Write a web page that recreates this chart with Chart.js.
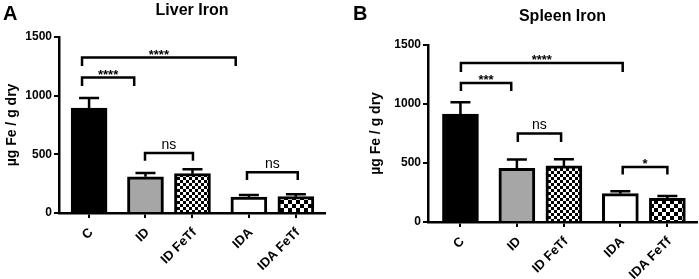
<!DOCTYPE html>
<html>
<head>
<meta charset="utf-8">
<script src="https://cdn.jsdelivr.net/npm/chart.js@4"></script>
<style>
  body { margin: 0; background: #fff; }
  #wrap { position: relative; width: 699px; height: 279px; }
  #panelA { position: absolute; left: 0; top: 0; }
  #panelB { position: absolute; left: 350px; top: 0; }
</style>
</head>
<body>
<div id="wrap">
  <canvas id="panelA" width="350" height="279"></canvas>
  <canvas id="panelB" width="349" height="279"></canvas>
</div>
<script>
// groups and where they sit on the x axis (gap between groups)
const groups = ['C', 'ID', 'ID FeTf', 'IDA', 'IDA FeTf'];
const groupX = [0, 1.2, 2.2, 3.4, 4.4];

// Liver iron (µg Fe / g dry)
const liverMean = [895, 309, 335, 136, 139];
const liverErr = [85, 32, 37, 17, 20];
// significance brackets: from / to (x units), top / foot (y units), label
const liverFrom = [-0.15, -0.15, 1.19, 3.36];
const liverTo = [3.12, 0.96, 2.21, 4.44];
const liverTop = [1325, 1154, 511, 347];
const liverFoot = [1252, 1082, 445, 281];
const liverSig = ['****', '****', 'ns', 'ns'];

// Spleen iron
const spleenMean = [915, 455, 475, 240, 200];
const spleenErr = [100, 74, 56, 20, 20];
const spleenFrom = [0.01, 0.01, 1.22, 3.45];
const spleenTo = [3.45, 1.08, 2.14, 4.40];
const spleenTop = [1347, 1178, 749, 466];
const spleenFoot = [1271, 1110, 678, 402];
const spleenSig = ['****', '***', 'ns', '*'];

const yTicks = [0, 500, 1000, 1500];
const yTitle = 'µg Fe / g dry';
const FONT = '"Liberation Sans", Arial, sans-serif';

function checker(ctx, size) {
    const c = document.createElement('canvas');
    c.width = c.height = size * 2;
    const g = c.getContext('2d');
    g.fillStyle = '#fff';
    g.fillRect(0, 0, size * 2, size * 2);
    g.fillStyle = '#000';
    g.fillRect(0, 0, size, size);
    g.fillRect(size, size, size, size);
    return ctx.createPattern(c, 'repeat');
}

// error bars, brackets, titles
function annotate(p) {
    return {
        id: 'annotate',
        afterDatasetsDraw(chart) {
            const ctx = chart.ctx;
            const x = chart.scales.x, y = chart.scales.y;
            ctx.save();
            ctx.strokeStyle = '#000';
            ctx.fillStyle = '#000';
            ctx.lineWidth = 2.5;
            p.mean.forEach((m, i) => {
                const px = x.getPixelForValue(groupX[i]);
                const y0 = y.getPixelForValue(m);
                const y1 = y.getPixelForValue(m + p.err[i]);
                ctx.beginPath();
                ctx.moveTo(px, y0);
                ctx.lineTo(px, y1);
                ctx.moveTo(px - 10, y1);
                ctx.lineTo(px + 10, y1);
                ctx.stroke();
            });
            p.from.forEach((f, i) => {
                const x1 = x.getPixelForValue(f), x2 = x.getPixelForValue(p.to[i]);
                const yt = y.getPixelForValue(p.top[i]), yf = y.getPixelForValue(p.foot[i]);
                ctx.beginPath();
                ctx.moveTo(x1, yf);
                ctx.lineTo(x1, yt);
                ctx.lineTo(x2, yt);
                ctx.lineTo(x2, yf);
                ctx.stroke();
                const ns = p.sig[i] === 'ns';
                ctx.font = ns ? '14px ' + FONT : 'bold 13px ' + FONT;
                ctx.textAlign = 'center';
                ctx.textBaseline = 'alphabetic';
                ctx.fillText(p.sig[i], (x1 + x2) / 2, yt + (ns ? -4.5 : 1));
            });
            // panel letter + title
            const ca = chart.chartArea;
            ctx.textBaseline = 'middle';
            ctx.textAlign = 'left';
            ctx.font = 'bold 20px ' + FONT;
            ctx.fillText(p.letter, 3, 14);
            ctx.textAlign = 'center';
            ctx.font = 'bold 16px ' + FONT;
            ctx.fillText(p.title, (ca.left + ca.right) / 2, p.titleY);
            ctx.restore();
        }
    };
}

function makePanel(id, p) {
    const ctx = document.getElementById(id).getContext('2d');
    const fills = ['#000', '#a6a6a6', checker(ctx, 3), '#fff', checker(ctx, 4)];
    return new Chart(ctx, {
        type: 'bar',
        data: {
            datasets: [{
                data: p.mean.map((m, i) => ({x: groupX[i], y: m})),
                backgroundColor: fills,
                borderColor: '#000',
                borderWidth: 3,
                borderSkipped: 'bottom',
                barThickness: 36
            }]
        },
        options: {
            responsive: false,
            animation: false,
            layout: {padding: {top: p.padTop, right: p.padRight, left: p.padLeft, bottom: 0}},
            plugins: {legend: {display: false}, tooltip: {enabled: false}},
            scales: {
                x: {
                    type: 'linear',
                    min: p.xMin,
                    max: p.xMax,
                    offset: false,
                    grid: {drawOnChartArea: false, offset: false, color: '#000', lineWidth: 2, tickLength: 5},
                    border: {color: '#000', width: 2.5},
                    afterBuildTicks: s => { s.ticks = groupX.map(v => ({value: v})); },
                    afterFit: s => { s.height = p.xHeight; },
                    ticks: {
                        autoSkip: false,
                        minRotation: 45,
                        maxRotation: 45,
                        padding: 7,
                        labelOffset: 2,
                        color: '#000',
                        font: {family: FONT, size: 13, weight: 'bold'},
                        callback: (v, i) => groups[i]
                    }
                },
                y: {
                    min: 0,
                    max: 1500,
                    grid: {drawOnChartArea: false, color: '#000', lineWidth: 2, tickLength: 5},
                    border: {color: '#000', width: 2.5},
                    afterBuildTicks: s => { s.ticks = yTicks.map(v => ({value: v})); },
                    afterFit: s => { s.width = p.yWidth; },
                    ticks: {padding: 2, color: '#000', font: {family: FONT, size: 12, weight: 'bold'},
                            callback: v => String(v)},
                    title: {display: true, text: yTitle, color: '#000', padding: {top: 4, bottom: 4},
                            font: {family: FONT, size: 14, weight: 'bold'}}
                }
            }
        },
        plugins: [annotate(p)]
    });
}

makePanel('panelA', {
    mean: liverMean, err: liverErr,
    from: liverFrom, to: liverTo, top: liverTop, foot: liverFoot, sig: liverSig,
    letter: 'A', title: 'Liver Iron', titleY: 11,
    xMin: -0.64, xMax: 5.02,
    padTop: 37, padRight: 25, padLeft: 0, yWidth: 59, xHeight: 66
});

makePanel('panelB', {
    mean: spleenMean, err: spleenErr,
    from: spleenFrom, to: spleenTo, top: spleenTop, foot: spleenFoot, sig: spleenSig,
    letter: 'B', title: 'Spleen Iron', titleY: 17,
    xMin: -0.69, xMax: 5.03,
    padTop: 45, padRight: 2, padLeft: 14, yWidth: 64, xHeight: 57
});
</script>
</body>
</html>
